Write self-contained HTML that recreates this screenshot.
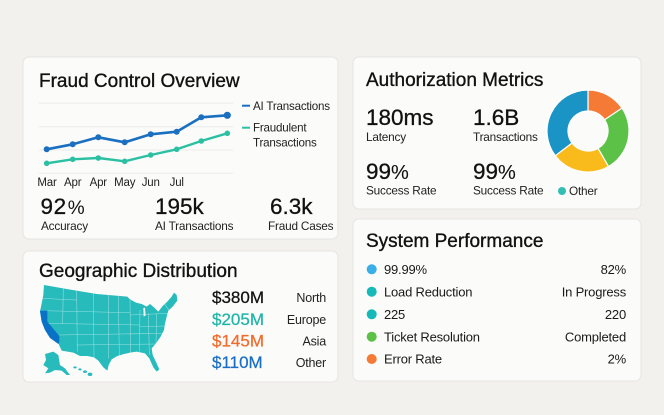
<!DOCTYPE html>
<html><head><meta charset="utf-8"><style>
html,body{margin:0;padding:0;background:#f3f1ed;}
svg{display:block;font-family:"Liberation Sans",sans-serif;}
.t{font-size:19px;fill:#111;stroke:#111;stroke-width:0.35;}
.big{font-size:22.5px;fill:#111;stroke:#111;stroke-width:0.3;}
.lab{font-size:11.8px;fill:#222;letter-spacing:-0.2px;}
.leg{font-size:11.6px;fill:#222;letter-spacing:-0.2px;}
.mon{font-size:11.5px;fill:#222;letter-spacing:-0.2px;}
.row{font-size:13px;fill:#1a1a1a;letter-spacing:-0.2px;}
.val{font-size:17px;stroke-width:0.25;}
</style></head><body>
<svg width="664" height="415" viewBox="0 0 664 415" xmlns="http://www.w3.org/2000/svg">
<rect width="664" height="415" fill="#f3f1ed"/>
<!-- cards -->
<rect x="23" y="57" width="315" height="182" rx="6" fill="#fbfbfa" stroke="#e7e5e1"/>
<rect x="353" y="57" width="288" height="152" rx="6" fill="#fbfbfa" stroke="#e7e5e1"/>
<rect x="23" y="251" width="315" height="131" rx="6" fill="#fbfbfa" stroke="#e7e5e1"/>
<rect x="353" y="219" width="288" height="162" rx="6" fill="#fbfbfa" stroke="#e7e5e1"/>

<!-- Card 1 -->
<text class="t" x="39" y="87">Fraud Control Overview</text>
<g stroke="#ebebeb" stroke-width="1">
<line x1="39" y1="103.3" x2="233" y2="103.3"/>
<line x1="39" y1="126.7" x2="233" y2="126.7"/>
<line x1="39" y1="150" x2="233" y2="150"/>
<line x1="39" y1="173.3" x2="233" y2="173.3"/>
</g>
<polyline fill="none" stroke="#1b6fc0" stroke-width="2.6" stroke-linejoin="round" points="46.7,149.3 72.7,144.3 98.3,137.3 124.7,142.3 150.7,134.3 176.7,131.7 201.3,117.3 227.3,115.3"/>
<g fill="#1b6fc0">
<circle cx="46.7" cy="149.3" r="3"/><circle cx="72.7" cy="144.3" r="3"/><circle cx="98.3" cy="137.3" r="3"/><circle cx="124.7" cy="142.3" r="3"/><circle cx="150.7" cy="134.3" r="3"/><circle cx="176.7" cy="131.7" r="3"/><circle cx="201.3" cy="117.3" r="3"/><circle cx="227.3" cy="115.3" r="3.6"/>
</g>
<polyline fill="none" stroke="#2cc0a2" stroke-width="2.4" stroke-linejoin="round" points="46.7,163.3 72.7,159.3 98.3,158 124.7,161.3 150.7,155 176.7,149.3 201.3,141 227.3,133.3"/>
<g fill="#2cc0a2">
<circle cx="46.7" cy="163.3" r="2.8"/><circle cx="72.7" cy="159.3" r="2.8"/><circle cx="98.3" cy="158" r="2.8"/><circle cx="124.7" cy="161.3" r="2.8"/><circle cx="150.7" cy="155" r="2.8"/><circle cx="176.7" cy="149.3" r="2.8"/><circle cx="201.3" cy="141" r="2.8"/><circle cx="227.3" cy="133.3" r="2.8"/>
</g>
<g class="mon" text-anchor="middle">
<text x="47" y="186">Mar</text><text x="72.7" y="186">Apr</text><text x="98.3" y="186">Apr</text><text x="124.7" y="186">May</text><text x="150.7" y="186">Jun</text><text x="176.7" y="186">Jul</text>
</g>
<line x1="242" y1="105.7" x2="250" y2="105.7" stroke="#1b6fc0" stroke-width="2"/>
<text class="leg" x="253" y="110">AI Transactions</text>
<line x1="242" y1="127.7" x2="250" y2="127.7" stroke="#2cc0a2" stroke-width="2"/>
<text class="leg" x="253" y="131.7">Fraudulent</text>
<text class="leg" x="253" y="146.7">Transactions</text>

<text class="big" x="40.5" y="214" letter-spacing="0.6">92<tspan font-size="19" stroke-width="0" dx="1">%</tspan></text>
<text class="big" x="155" y="214">195k</text>
<text class="big" x="270" y="214">6.3k</text>
<text class="lab" x="41" y="230">Accuracy</text>
<text class="lab" x="155" y="230">AI Transactions</text>
<text class="lab" x="268" y="230">Fraud Cases</text>

<!-- Card 2 -->
<text class="t" x="366" y="86">Authorization Metrics</text>
<text class="big" x="366" y="125">180ms</text>
<text class="big" x="473" y="125">1.6B</text>
<text class="lab" x="366" y="141">Latency</text>
<text class="lab" x="473" y="141">Transactions</text>
<text class="big" x="366" y="179">99<tspan font-size="20" stroke-width="0.1">%</tspan></text>
<text class="big" x="473" y="179">99<tspan font-size="20" stroke-width="0.1">%</tspan></text>
<text class="lab" x="366" y="194.5">Success Rate</text>
<text class="lab" x="473" y="194.5">Success Rate</text>
<circle cx="562" cy="191" r="4" fill="#33bdb5"/>
<text class="lab" x="569" y="195">Other</text>
<g stroke="#ffffff" stroke-width="1.2">
<path d="M588,90 A41,41 0 0 1 622,108.1 L604.6,119.8 A20,20 0 0 0 588,111 Z" fill="#f47a35"/>
<path d="M622,108.1 A41,41 0 0 1 608.5,166.5 L598,148.3 A20,20 0 0 0 604.6,119.8 Z" fill="#5cc147"/>
<path d="M608.5,166.5 A41,41 0 0 1 555.3,155.7 L572,143 A20,20 0 0 0 598,148.3 Z" fill="#f9bb1c"/>
<path d="M555.3,155.7 A41,41 0 0 1 588,90 L588,111 A20,20 0 0 0 572,143 Z" fill="#1a94c4"/>
</g>

<!-- Card 3 -->
<text class="t" x="39" y="277">Geographic Distribution</text>
<defs>
<clipPath id="us"><polygon points="42,15 110,27 200,42 292,50 300,58 318,68 335,72 350,80 360,72 372,82 385,95 398,78 412,65 425,50 432,38 440,45 442,62 428,80 415,92 410,110 405,130 402,150 392,170 378,190 365,205 368,225 380,250 388,268 380,275 370,262 358,235 345,220 320,215 300,218 282,222 262,228 245,238 236,255 232,272 220,262 205,242 192,232 172,228 150,228 130,218 95,212 85,190 60,172 45,150 35,125 30,95 35,70 40,45"/></clipPath>
</defs>
<g transform="translate(30,280) scale(0.33333)">
<polygon fill="#27bbbb" points="42,15 110,27 200,42 292,50 300,58 318,68 335,72 350,80 360,72 372,82 385,95 398,78 412,65 425,50 432,38 440,45 442,62 428,80 415,92 410,110 405,130 402,150 392,170 378,190 365,205 368,225 380,250 388,268 380,275 370,262 358,235 345,220 320,215 300,218 282,222 262,228 245,238 236,255 232,272 220,262 205,242 192,232 172,228 150,228 130,218 95,212 85,190 60,172 45,150 35,125 30,95 35,70 40,45"/>
<g clip-path="url(#us)" stroke="#e9fbfb" stroke-width="1.6" fill="none" opacity="0.6">
<line x1="35" y1="55" x2="140" y2="60"/>
<line x1="30" y1="92" x2="300" y2="98"/>
<line x1="52" y1="130" x2="330" y2="135"/>
<line x1="88" y1="165" x2="405" y2="160"/>
<line x1="140" y1="195" x2="380" y2="192"/>
<line x1="300" y1="105" x2="415" y2="100"/>
<line x1="330" y1="140" x2="405" y2="138"/>
<line x1="100" y1="20" x2="98" y2="130"/>
<line x1="140" y1="30" x2="142" y2="215"/>
<line x1="190" y1="40" x2="192" y2="232"/>
<line x1="235" y1="45" x2="236" y2="235"/>
<line x1="265" y1="45" x2="268" y2="228"/>
<line x1="300" y1="60" x2="302" y2="220"/>
<line x1="330" y1="90" x2="328" y2="215"/>
<line x1="355" y1="100" x2="358" y2="225"/>
<line x1="380" y1="100" x2="378" y2="190"/>
<line x1="395" y1="60" x2="420" y2="95"/>
</g>
<polygon fill="#f4fbfb" points="340,84 345,83 347,106 341,110"/>
<polygon fill="#0a72c6" points="30,92 52,92 52,125 88,168 88,185 85,192 60,174 45,150 35,125"/>
<polygon fill="#27bbbb" points="45,222 70,215 85,225 90,255 105,265 120,285 110,285 95,272 75,270 60,278 45,280 55,265 40,255 48,240"/>
<ellipse cx="135" cy="262" rx="5" ry="3" fill="#27bbbb"/>
<ellipse cx="150" cy="268" rx="5" ry="3" fill="#27bbbb"/>
<ellipse cx="165" cy="275" rx="6" ry="4" fill="#27bbbb"/>
<ellipse cx="180" cy="283" rx="7" ry="5" fill="#27bbbb"/>
</g>
<text class="val" x="212" y="303" fill="#111" stroke="#111">$380M</text>
<text class="val" x="212" y="325" fill="#1db5a8" stroke="#1db5a8">$205M</text>
<text class="val" x="212" y="346.5" fill="#f26b2a" stroke="#f26b2a">$145M</text>
<text class="val" x="212" y="368" fill="#1a6fc4" stroke="#1a6fc4">$110M</text>
<g class="leg" text-anchor="end">
<text x="326" y="302" font-size="12.5">North</text>
<text x="326" y="324" font-size="12.5">Europe</text>
<text x="326" y="345.5" font-size="12.5">Asia</text>
<text x="326" y="367" font-size="12.5">Other</text>
</g>

<!-- Card 4 -->
<text class="t" x="366" y="247">System Performance</text>
<circle cx="371.7" cy="269.3" r="5" fill="#3aaee6"/>
<circle cx="371.7" cy="291.7" r="5" fill="#17b8b8"/>
<circle cx="371.7" cy="314.3" r="5" fill="#17b8b8"/>
<circle cx="371.7" cy="336.7" r="5" fill="#5cc147"/>
<circle cx="371.7" cy="359" r="5" fill="#f47a35"/>
<g class="row">
<text x="384" y="274">99.99%</text>
<text x="384" y="296.3">Load Reduction</text>
<text x="384" y="319">225</text>
<text x="384" y="341.3">Ticket Resolution</text>
<text x="384" y="363.6">Error Rate</text>
</g>
<g class="row" text-anchor="end">
<text x="626" y="274">82%</text>
<text x="626" y="296.3">In Progress</text>
<text x="626" y="319">220</text>
<text x="626" y="341.3">Completed</text>
<text x="626" y="363.6">2%</text>
</g>
</svg>
</body></html>
